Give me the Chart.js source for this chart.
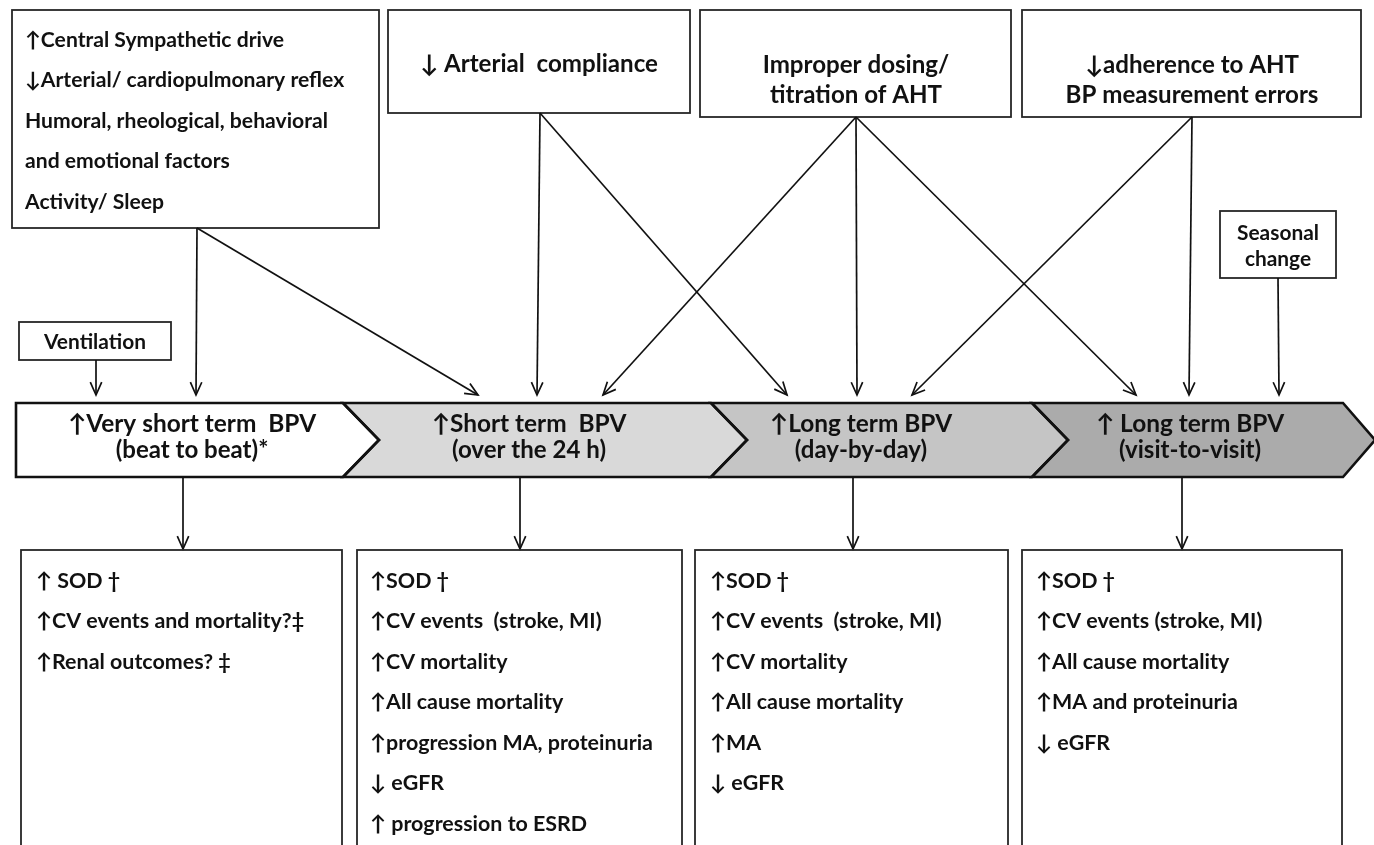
<!DOCTYPE html>
<html>
<head>
<meta charset="utf-8">
<script src="https://cdn.jsdelivr.net/npm/chart.js@4.4.1/dist/chart.umd.min.js"></script>
<style>
  html, body { margin: 0; padding: 0; background: #ffffff; overflow: hidden; }
  canvas { display: block; }
</style>
</head>
<body>
<canvas id="c" width="1374" height="845"></canvas>
<script>
// ---------------- DATA ----------------
// BPV categories (chevron band)
const bpvCategories = ["↑Very short term  BPV", "↑Short term  BPV", "↑Long term BPV", "↑ Long term BPV"];
const bpvSubtitles  = ["(beat to beat)*", "(over the 24 h)", "(day-by-day)", "(visit-to-visit)"];

// Causal factors (top boxes)
const factorLabels = [
  ["↑Central Sympathetic drive", "↓Arterial/ cardiopulmonary reflex", "Humoral, rheological, behavioral", "and emotional factors", "Activity/ Sleep"],
  ["↓ Arterial  compliance"],
  ["Improper dosing/", "titration of AHT"],
  ["↓adherence to AHT", "BP measurement errors"],
  ["Seasonal", "change"],
  ["Ventilation"]
];
// Which BPV category each factor points to
const factorTargets = [[0, 1], [1, 2], [1, 2, 3], [2, 3], [3], [0]];

// Outcomes (bottom boxes)
const outcomeLabels = [
  ["↑ SOD †", "↑CV events and mortality?‡", "↑Renal outcomes? ‡"],
  ["↑SOD †", "↑CV events  (stroke, MI)", "↑CV mortality", "↑All cause mortality", "↑progression MA, proteinuria", "↓ eGFR", "↑ progression to ESRD"],
  ["↑SOD †", "↑CV events  (stroke, MI)", "↑CV mortality", "↑All cause mortality", "↑MA", "↓ eGFR"],
  ["↑SOD †", "↑CV events (stroke, MI)", "↑All cause mortality", "↑MA and proteinuria", "↓ eGFR"]
];

// ---------------- LAYOUT (diagram geometry, in scale units) ----------------
const layout = {
  factorBoxes: [
    { x1: 12, y1: 10, x2: 379, y2: 228, align: "left", tx: 25, ty: 40, dy: 40.5, font: "box1", out: 197 },
    { x1: 388, y1: 10, x2: 690, y2: 113, align: "center", tx: 539, ty: 64, dy: 30, font: "top", out: 540 },
    { x1: 700, y1: 10, x2: 1011, y2: 117, align: "center", tx: 856, ty: 65, dy: 30, font: "top", out: 856 },
    { x1: 1022, y1: 10, x2: 1361, y2: 117, align: "center", tx: 1192, ty: 65, dy: 30, font: "top", out: 1192 },
    { x1: 1220, y1: 211, x2: 1336, y2: 278, align: "center", tx: 1278, ty: 233, dy: 26, font: "small", out: 1278 },
    { x1: 19, y1: 322, x2: 171, y2: 360, align: "center", tx: 95, ty: 342, dy: 26, font: "small", out: 96 }
  ],
  // arrow tip x-positions on band top, per factor (in same order as factorTargets)
  arrowTips: [[196, 478], [537, 787], [603, 857, 1136], [912, 1189], [1279], [96]],
  tipY: 395,
  band: { top: 403, bottom: 477, left: 16, notches: [343, 711, 1032, 1343], depth: 36, right: 1375 },
  bandColors: ["#ffffff", "#d9d9d9", "#c5c5c5", "#ababab"],
  bandText: [192, 529, 861, 1190],
  outArrows: [183, 520, 853, 1182],
  outBoxes: [
    { x1: 21, x2: 342, tx: 36 },
    { x1: 357, x2: 682, tx: 370 },
    { x1: 695, x2: 1008, tx: 710 },
    { x1: 1022, x2: 1342, tx: 1036 }
  ],
  outTop: 550, outBottom: 860, outLine0: 581, outDy: 40.5
};

const FAMILY = "Lato, 'Open Sans', 'DejaVu Sans', sans-serif";

function fitSize(ctx, text, target, weight) {
  ctx.font = weight + " 100px " + FAMILY;
  const w = ctx.measureText(text).width;
  return 100 * target / w;
}

const diagramPlugin = {
  id: "diagram",
  afterDraw(chart) {
    const ctx = chart.ctx;
    const sx = chart.scales.x, sy = chart.scales.y;
    const X = v => sx.getPixelForValue(v);
    const Y = v => sy.getPixelForValue(v);
    const L = layout;

    const sizes = {
      box1: fitSize(ctx, "Humoral, rheological, behavioral", 303, "bold"),
      top: fitSize(ctx, "BP measurement errors", 253, "bold"),
      small: fitSize(ctx, "Ventilation", 102, "bold"),
      band1: fitSize(ctx, "Very short term  BPV", 230, "bold"),
      band2: fitSize(ctx, "(over the 24 h)", 154, "bold"),
      out: fitSize(ctx, "progression MA, proteinuria", 267, "bold")
    };

    ctx.save();
    ctx.fillStyle = "#ffffff";
    ctx.fillRect(0, 0, chart.width, chart.height);

    // --- factor boxes ---
    ctx.strokeStyle = "#262626";
    ctx.lineWidth = 1.8;
    L.factorBoxes.forEach(b => {
      ctx.strokeRect(X(b.x1), Y(b.y1), X(b.x2) - X(b.x1), Y(b.y2) - Y(b.y1));
    });

    // --- arrows ---
    function arrow(x1, y1, x2, y2) {
      const ax1 = X(x1), ay1 = Y(y1), ax2 = X(x2), ay2 = Y(y2);
      ctx.beginPath();
      ctx.moveTo(ax1, ay1);
      ctx.lineTo(ax2, ay2);
      ctx.stroke();
      const ang = Math.atan2(ay2 - ay1, ax2 - ax1);
      const len = 14, spread = 0.42;
      ctx.beginPath();
      ctx.moveTo(ax2 - len * Math.cos(ang - spread), ay2 - len * Math.sin(ang - spread));
      ctx.lineTo(ax2, ay2);
      ctx.lineTo(ax2 - len * Math.cos(ang + spread), ay2 - len * Math.sin(ang + spread));
      ctx.stroke();
    }
    ctx.strokeStyle = "#111111";
    ctx.lineWidth = 1.7;
    ctx.lineJoin = "miter";
    factorTargets.forEach((targets, i) => {
      const b = L.factorBoxes[i];
      targets.forEach((t, j) => {
        arrow(b.out, b.y2, L.arrowTips[i][j], L.tipY);
      });
    });

    // --- chevron band ---
    const B = L.band;
    const mid = (B.top + B.bottom) / 2;
    const segs = [];
    for (let i = 0; i < bpvCategories.length; i++) {
      const pts = [];
      const right = B.notches[i];
      const tip = i === bpvCategories.length - 1 ? B.right : right + B.depth;
      if (i === 0) {
        pts.push([B.left, B.top], [right, B.top], [tip, mid], [right, B.bottom], [B.left, B.bottom]);
      } else {
        const left = B.notches[i - 1];
        pts.push([left, B.top], [right, B.top], [tip, mid], [right, B.bottom], [left, B.bottom], [left + B.depth, mid]);
      }
      segs.push(pts);
    }
    segs.forEach((pts, i) => {
      ctx.beginPath();
      pts.forEach((p, k) => k ? ctx.lineTo(X(p[0]), Y(p[1])) : ctx.moveTo(X(p[0]), Y(p[1])));
      ctx.closePath();
      ctx.fillStyle = L.bandColors[i];
      ctx.fill();
    });
    ctx.strokeStyle = "#111111";
    ctx.lineWidth = 2.6;
    segs.forEach(pts => {
      ctx.beginPath();
      pts.forEach((p, k) => k ? ctx.lineTo(X(p[0]), Y(p[1])) : ctx.moveTo(X(p[0]), Y(p[1])));
      ctx.closePath();
      ctx.stroke();
    });

    // --- band to outcome arrows ---
    ctx.lineWidth = 1.7;
    L.outArrows.forEach(x => arrow(x, B.bottom, x, L.outTop - 1));

    // --- outcome boxes (open at bottom, run off the page) ---
    ctx.strokeStyle = "#262626";
    ctx.lineWidth = 1.8;
    L.outBoxes.forEach(b => {
      ctx.strokeRect(X(b.x1), Y(L.outTop), X(b.x2) - X(b.x1), Y(L.outBottom) - Y(L.outTop));
    });

    // --- text ---
    ctx.fillStyle = "#111111";
    ctx.textBaseline = "middle";
    factorLabels.forEach((lines, i) => {
      const b = L.factorBoxes[i];
      ctx.font = "bold " + sizes[b.font].toFixed(2) + "px " + FAMILY;
      ctx.textAlign = b.align;
      lines.forEach((t, k) => ctx.fillText(t, X(b.tx), Y(b.ty + k * b.dy)));
    });

    ctx.textAlign = "center";
    bpvCategories.forEach((t, i) => {
      ctx.font = "bold " + sizes.band1.toFixed(2) + "px " + FAMILY;
      ctx.fillText(t, X(L.bandText[i]), Y(424));
      ctx.font = "bold " + sizes.band2.toFixed(2) + "px " + FAMILY;
      ctx.fillText(bpvSubtitles[i], X(L.bandText[i]), Y(450));
    });

    ctx.textAlign = "left";
    ctx.font = "bold " + sizes.out.toFixed(2) + "px " + FAMILY;
    outcomeLabels.forEach((lines, i) => {
      const b = L.outBoxes[i];
      lines.forEach((t, k) => ctx.fillText(t, X(b.tx), Y(L.outLine0 + k * L.outDy)));
    });
    ctx.restore();
  }
};

new Chart(document.getElementById("c"), {
  type: "scatter",
  data: { datasets: [{ data: [], pointRadius: 0 }] },
  options: {
    responsive: false,
    animation: false,
    events: [],
    layout: { padding: 0 },
    scales: {
      x: { type: "linear", min: 0, max: 1374, display: false },
      y: { type: "linear", min: 0, max: 845, reverse: true, display: false }
    },
    plugins: { legend: { display: false }, tooltip: { enabled: false } }
  },
  plugins: [diagramPlugin]
});
</script>
</body>
</html>
